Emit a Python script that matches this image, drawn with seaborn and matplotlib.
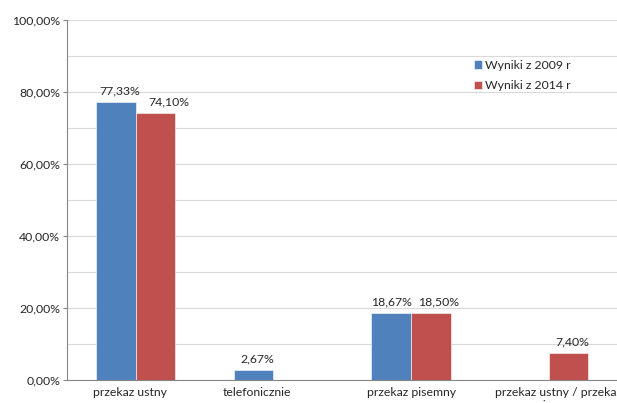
import numpy as np
import pandas as pd
import matplotlib
matplotlib.use("Agg")
import matplotlib.pyplot as plt
import seaborn as sns
from matplotlib.ticker import MultipleLocator, FuncFormatter
from matplotlib.transforms import ScaledTranslation

categories = ["przekaz ustny", "telefonicznie", "przekaz pisemny",
              "przekaz ustny / przekaz\npisemny"]
series_names = ["Wyniki z 2009 r", "Wyniki z 2014 r"]
values_2009 = [77.33, 2.67, 18.67, np.nan]
values_2014 = [74.10, np.nan, 18.50, 7.40]
colors = ["#4F81BD", "#C0504D"]

df = pd.DataFrame({
    "kategoria": categories * 2,
    "seria": [series_names[0]] * 4 + [series_names[1]] * 4,
    "wartosc": values_2009 + values_2014,
})

sns.set_theme(style="white")
plt.rcParams["font.family"] = ["Lato", "DejaVu Sans"]
FS = 8.8
TXT = "#262626"
DPI = 100

fig = plt.figure(figsize=(6.17, 4.03), dpi=DPI)
ax = fig.add_axes([67 / 617, 1 - 380 / 403, 550.5 / 617, 360 / 403])

sns.barplot(data=df, x="kategoria", y="wartosc", hue="seria",
            palette=colors, width=0.575, ax=ax, edgecolor="white",
            linewidth=0.4, saturation=1)

def pl(v, pos=None):
    return f"{v:.2f}".replace(".", ",") + "%"

# horizontal nudges (pixels) for the value labels of each series, per category
label_nudge = [[4, 4, 0, 0], [13, 0, 8, 4]]

for si, cont in enumerate(ax.containers):
    labels = ["" if np.isnan(b.get_height()) or b.get_height() == 0 else pl(b.get_height())
              for b in cont]
    anns = ax.bar_label(cont, labels=labels, padding=4, fontsize=FS, color=TXT)
    for bar, ann in zip(cont, anns):
        ci = int(round(bar.get_x() + bar.get_width() / 2))
        dx, dy = ann.xyann
        ann.xyann = (dx + label_nudge[si][ci] * 72 / DPI, dy)

ax.set_xlim(-0.5, 3.5)
ax.set_ylim(0, 100)
ax.yaxis.set_major_locator(MultipleLocator(20))
ax.yaxis.set_minor_locator(MultipleLocator(10))
ax.yaxis.set_major_formatter(FuncFormatter(pl))
ax.grid(axis="y", which="both", color="#D9D9D9", linewidth=0.8)
ax.set_axisbelow(True)

ax.set_xticks([0, 1, 2, 3])
ax.set_xticklabels(categories)
ax.set_xticks([0.5, 1.5, 2.5], minor=True)
ax.tick_params(axis="x", which="major", length=0, labelsize=FS, pad=5,
               labelcolor=TXT)
ax.tick_params(axis="x", which="minor", length=4, width=0.8, color="#868686",
               direction="out")
ax.tick_params(axis="y", which="major", length=3, width=0.8, color="#868686",
               labelsize=FS, labelcolor=TXT, pad=2, direction="out", left=True)
ax.tick_params(axis="y", which="minor", length=0)

# category label placement; the long last label runs past the figure edge
tick_shift_px = [-6, -16.5, 1, -53.5]
ticklabels = ax.get_xticklabels()
ticklabels[3].set_horizontalalignment("left")
ticklabels[3].set_multialignment("center")
for lbl, sh in zip(ticklabels, tick_shift_px):
    lbl.set_transform(lbl.get_transform() + ScaledTranslation(sh / DPI, 0, fig.dpi_scale_trans))

for s in ["top", "right"]:
    ax.spines[s].set_visible(False)
for s in ["left", "bottom"]:
    ax.spines[s].set_color("#868686")
    ax.spines[s].set_linewidth(0.8)

ax.set_xlabel("")
ax.set_ylabel("")

leg = ax.legend(loc="upper left", bbox_to_anchor=(0.73, 0.903), frameon=False,
                fontsize=FS, handlelength=0.65, handleheight=0.65,
                handletextpad=0.25, labelspacing=0.75, borderaxespad=0)
for t in leg.get_texts():
    t.set_color(TXT)

fig.savefig("out.png", dpi=DPI)
